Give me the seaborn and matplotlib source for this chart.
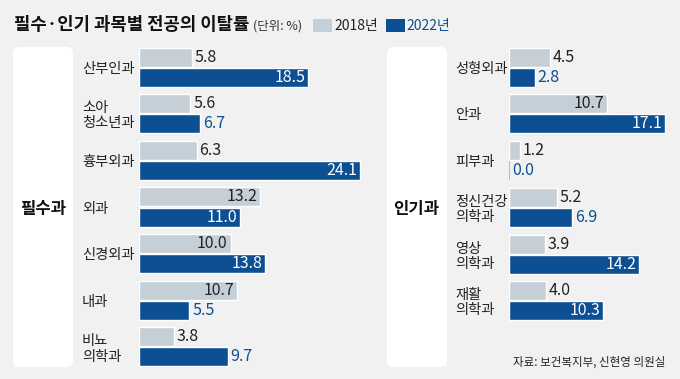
import pandas as pd
import matplotlib
matplotlib.use('Agg')
import matplotlib.pyplot as plt
import seaborn as sns
from matplotlib.patches import FancyBboxPatch, Rectangle

# data (전공의 이탈률, %)
core_depts = ['산부인과', '소아\n청소년과', '흉부외과', '외과', '신경외과', '내과', '비뇨\n의학과']
core_2018 = [5.8, 5.6, 6.3, 13.2, 10.0, 10.7, 3.8]
core_2022 = [18.5, 6.7, 24.1, 11.0, 13.8, 5.5, 9.7]

popular_depts = ['성형외과', '안과', '피부과', '정신건강\n의학과', '영상\n의학과', '재활\n의학과']
popular_2018 = [4.5, 10.7, 1.2, 5.2, 3.9, 4.0]
popular_2022 = [2.8, 17.1, 0.0, 6.9, 14.2, 10.3]

years = ['2018년', '2022년']

BG = '#f1f1f1'
GRAY = '#c4cfd8'
BLUE = '#0c4f92'

sns.set_style('white')
plt.rcParams['font.family'] = ['Noto Sans CJK KR', 'DejaVu Sans']


def make_df(depts, v18, v22):
    df = pd.DataFrame({'dept': depts, years[0]: v18, years[1]: v22})
    return df.melt(id_vars='dept', var_name='year', value_name='rate')


W, H = 680, 379
fig = plt.figure(figsize=(W / 100, H / 100), dpi=100)
fig.patch.set_facecolor(BG)

# white rounded side boxes
for x0 in (13, 387):
    fig.patches.append(FancyBboxPatch((x0, H - 367), 60, 320,
                                      boxstyle='round,pad=0,rounding_size=6',
                                      fc='white', ec='none', transform=None, zorder=0))

px_per_unit = 9.15


def draw_panel(rect_px, label_x, depts, v18, v22):
    left, top, right, bottom = rect_px
    ax = fig.add_axes([left / W, (H - bottom) / H, (right - left) / W, (bottom - top) / H])
    ax.set_facecolor('none')
    df = make_df(depts, v18, v22)
    sns.barplot(data=df, y='dept', x='rate', hue='year', hue_order=years,
                palette=[GRAY, BLUE], width=0.86, gap=0.05, orient='h',
                legend=False, ax=ax, saturation=1)
    n = len(depts)
    ax.set_ylim(n - 1 + 0.43, -0.43)
    ax.set_xlim(0, (right - left) / px_per_unit)
    for s in ax.spines.values():
        s.set_visible(False)
    ax.set_xticks([])
    ax.set_xlabel('')
    ax.set_ylabel('')
    ax.set_yticks(range(n))
    ax.set_yticklabels(depts, fontsize=10.3, color='#222222', linespacing=1.1)
    ax.tick_params(axis='y', length=0, pad=(left - label_x) * 0.72)
    for lbl in ax.get_yticklabels():
        lbl.set_horizontalalignment('left')

    for ci, cont in enumerate(ax.containers):
        for patch in cont.patches:
            val = patch.get_width()
            yc = patch.get_y() + patch.get_height() / 2
            if val == 0:
                patch.set_edgecolor('#8db6e2')
                patch.set_linewidth(1.2)
            inside = val >= 10
            if inside:
                color = '#222222' if ci == 0 else 'white'
                ax.annotate(f'{val:.1f}', (val, yc), xytext=(-2, 0), textcoords='offset points',
                            ha='right', va='center', fontsize=11.5, color=color)
            else:
                color = '#222222' if ci == 0 else BLUE
                ax.annotate(f'{val:.1f}', (val, yc), xytext=(2, 0), textcoords='offset points',
                            ha='left', va='center', fontsize=11.5, color=color)
    return ax


draw_panel((139, 47, 372, 367), 82, core_depts, core_2018, core_2022)
draw_panel((509, 47, 672, 321), 455, popular_depts, popular_2018, popular_2022)

# group labels
fig.text(43 / W, 1 - 209 / H, '필수과', ha='center', va='center', fontsize=12,
         fontweight='bold', color='#111111')
fig.text(416 / W, 1 - 209 / H, '인기과', ha='center', va='center', fontsize=12,
         fontweight='bold', color='#111111')

# title and legend
fig.text(14 / W, 1 - 25 / H, '필수·인기 과목별 전공의 이탈률', ha='left', va='center',
         fontsize=12.8, fontweight='bold', color='#111111')
fig.text(253 / W, 1 - 26 / H, '(단위: %)', ha='left', va='center', fontsize=9, color='#333333')
fig.patches.append(Rectangle((313, H - 32), 19, 13, fc=GRAY, ec='none', transform=None))
fig.text(334 / W, 1 - 26 / H, '2018년', ha='left', va='center', fontsize=10, color='#222222')
fig.patches.append(Rectangle((386, H - 32), 19, 13, fc=BLUE, ec='none', transform=None))
fig.text(406 / W, 1 - 26 / H, '2022년', ha='left', va='center', fontsize=10, color=BLUE)

fig.text(665 / W, 1 - 362 / H, '자료: 보건복지부, 신현영 의원실', ha='right', va='center',
         fontsize=8.3, color='#222222')

fig.savefig('out.png', dpi=100, facecolor=BG)
